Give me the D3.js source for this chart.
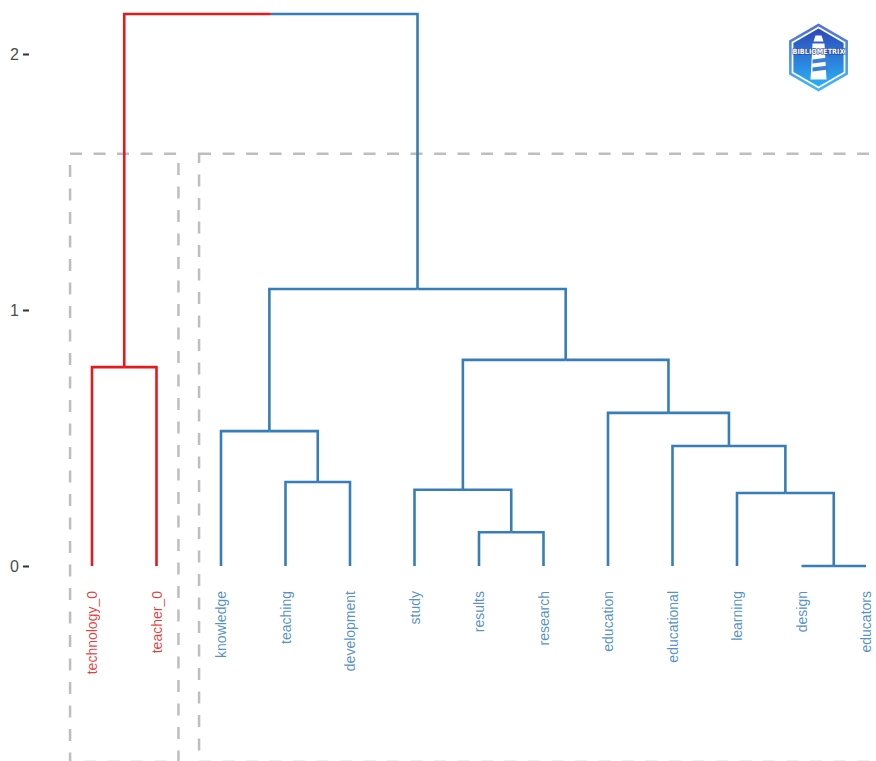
<!DOCTYPE html>
<html>
<head>
<meta charset="utf-8">
<script src="https://cdn.jsdelivr.net/npm/d3@7"></script>
<style>
  html, body { margin: 0; padding: 0; background: #fff; }
  svg { display: block; }
</style>
</head>
<body>
<div id="chart"></div>
<script>
// ---- data ----
const labels = ["technology_0","teacher_0","knowledge","teaching","development","study",
                "results","research","education","educational","learning","design","educators"];
const leafCluster = [1,1,2,2,2,2,2,2,2,2,2,2,2];
// hclust-style merges: negative = leaf (1-based), positive = earlier merge (1-based)
const mergeLeft   = [-12, -7, -11, -6, -4, -10, -3, -9, -1, 4,  7,  9];
const mergeRight  = [-13, -8,   1,  2, -5,   3,  5,  6, -2, 8, 10, 11];
const mergeHeight = [0.0, 0.132, 0.285, 0.298, 0.328, 0.469, 0.527, 0.598, 0.777, 0.805, 1.082, 2.156];
const yTicks = [0, 1, 2];
const cutHeight = 1.61;
const plotBottom = -0.766;
const clusterColors = {1: "#E41A1C", 2: "#377EB8"};

// ---- layout ----
const W = 876, H = 761;
const svg = d3.select("#chart").append("svg").attr("width", W).attr("height", H);

const x = d3.scalePoint().domain(d3.range(labels.length)).range([92, 866]);
const y = d3.scaleLinear().domain([0, 2]).range([566, 54]);
const step = x.step();

// build nested tree
function node(ref) {
  if (ref < 0) {
    const i = -ref - 1;
    return { name: labels[i], leaf: i, height: 0, cluster: leafCluster[i] };
  }
  const m = ref - 1;
  const c = [node(mergeLeft[m]), node(mergeRight[m])];
  const cl = c[0].cluster === c[1].cluster ? c[0].cluster : 0;
  return { children: c, height: mergeHeight[m], cluster: cl };
}
const root = d3.hierarchy(node(mergeLeft.length));
root.eachAfter(d => {
  if (!d.children) d.px = x(d.data.leaf);
  else d.px = d3.mean(d.children, c => c.px);
  d.py = y(d.data.height);
});

// dashed cluster rectangles
const clusters = d3.groups(labels.map((l, i) => ({i, c: leafCluster[i]})), d => d.c);
const g0 = svg.append("g");
clusters.forEach(([c, items]) => {
  const i0 = d3.min(items, d => d.i), i1 = d3.max(items, d => d.i);
  g0.append("rect")
    .attr("x", x(i0) - step * 0.34)
    .attr("y", y(cutHeight))
    .attr("width", x(i1) - x(i0) + step * 0.68)
    .attr("height", y(plotBottom) - y(cutHeight))
    .attr("fill", "none")
    .attr("stroke", "#BEBEBE")
    .attr("stroke-width", 2.5)
    .attr("stroke-dasharray", "12,11.5");
});

// branches
const gT = svg.append("g").attr("fill", "none").attr("stroke-width", 2.6).attr("stroke-linecap", "butt");
root.each(d => {
  if (!d.children) return;
  d.children.forEach(c => {
    const col = clusterColors[c.data.cluster];
    gT.append("path")
      .attr("d", `M${d.px},${d.py}H${c.px}V${c.py}`)
      .attr("stroke", col)
      .attr("stroke-linejoin", "miter");
  });
});

// leaf labels
svg.append("g").selectAll("text").data(labels).join("text")
  .attr("transform", (d, i) => `translate(${x(i) + 5},${591}) rotate(-90)`)
  .attr("text-anchor", "end")
  .attr("font-family", "Liberation Sans, Arial, sans-serif")
  .attr("font-size", 14)
  .attr("fill", (d, i) => clusterColors[leafCluster[i]])
  .attr("fill-opacity", 0.85)
  .text(d => d);

// y axis
const ax = svg.append("g").attr("transform", "translate(29,0)")
  .call(d3.axisLeft(y).tickValues(yTicks).tickSize(6).tickPadding(4).tickFormat(d3.format("d")));
ax.select(".domain").remove();
ax.selectAll(".tick line").attr("stroke", "#333").attr("stroke-width", 2);
ax.selectAll(".tick text").attr("font-family", "Liberation Sans, Arial, sans-serif")
  .attr("font-size", 16).attr("fill", "#4D4D4D");

// logo
const logo = svg.append("g").attr("transform", "translate(818.5,57.5)");
const defs = svg.append("defs");
const lg = defs.append("linearGradient").attr("id", "hexg").attr("x1", 0).attr("y1", 0).attr("x2", 0).attr("y2", 1);
lg.append("stop").attr("offset", "0%").attr("stop-color", "#2D47B8");
lg.append("stop").attr("offset", "100%").attr("stop-color", "#2AB0F7");
const lg2 = defs.append("linearGradient").attr("id", "hexo").attr("x1", 0).attr("y1", 0).attr("x2", 0).attr("y2", 1);
lg2.append("stop").attr("offset", "0%").attr("stop-color", "#5470D0");
lg2.append("stop").attr("offset", "100%").attr("stop-color", "#45B8F5");
function hex(r) {
  return d3.range(6).map(k => {
    const a = Math.PI / 3 * k - Math.PI / 2;
    return [r * Math.cos(a), r * Math.sin(a)];
  });
}
logo.append("polygon").attr("points", hex(34).join(" ")).attr("fill", "url(#hexo)");
logo.append("polygon").attr("points", hex(31).join(" ")).attr("fill", "#fff");
logo.append("polygon").attr("points", hex(29).join(" ")).attr("fill", "url(#hexg)");
// lighthouse
logo.append("path").attr("d", "M-3,-22 L3,-22 L5,-16 L-5,-16 Z").attr("fill", "#fff");
logo.append("path").attr("d", "M-6,-14 L6,-14 L8,22 L-8,22 Z").attr("fill", "#fff");
logo.append("path").attr("d", "M-6,2 L10,0 L10,4 L-6,6 Z M-6,10 L10,8 L10,12 L-6,14 Z").attr("fill", "#3a7fd8");
logo.append("text").attr("x", 0).attr("y", -4).attr("text-anchor", "middle")
  .attr("font-family", "DejaVu Sans, sans-serif").attr("font-weight", "bold")
  .attr("font-size", 7.2).attr("fill", "#fff").attr("stroke", "#1f3a9c").attr("stroke-width", 1.2)
  .attr("paint-order", "stroke").attr("textLength", 52).attr("lengthAdjust", "spacingAndGlyphs")
  .text("BIBLIOMETRIX");
</script>
</body>
</html>
